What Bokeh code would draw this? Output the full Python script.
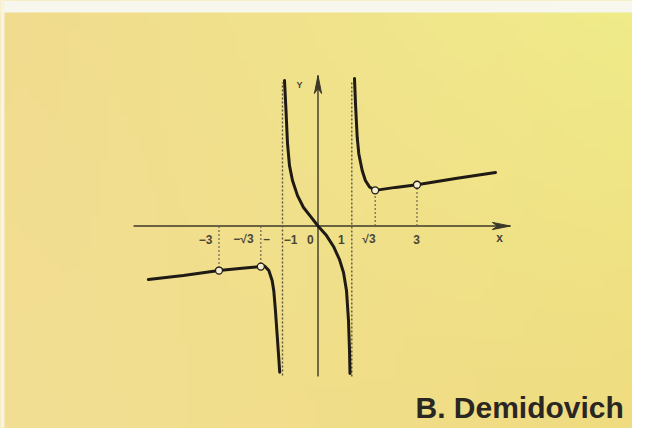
import numpy as np
from bokeh.plotting import figure
from bokeh.models import Label, BoxAnnotation
from bokeh.core.properties import value
from bokeh.embed import file_html
from bokeh.resources import INLINE

# ---- data (data units) ----
left_x = [-5.14, -4.08, -3.0, -2.38, -1.732, -1.62, -1.49, -1.39, -1.34, -1.29, -1.24, -1.19, -1.16]
left_y = [-1.62, -1.50, -1.35, -1.29, -1.23, -1.21, -1.35, -1.65, -1.96, -2.56, -3.27, -3.98, -4.43]

mid_x = [-1.015, -0.97, -0.924, -0.864, -0.773, -0.621, -0.439, -0.227, 0.0,
         0.258, 0.47, 0.652, 0.773, 0.864, 0.924, 0.955, 0.97]
mid_y = [4.41, 3.50, 2.50, 1.83, 1.38, 0.92, 0.56, 0.29, 0.0,
         -0.29, -0.62, -1.02, -1.41, -1.96, -2.86, -3.77, -4.47]

right_x = [1.106, 1.136, 1.188, 1.236, 1.339, 1.436, 1.561, 1.732, 2.348, 3.0, 4.167, 5.379]
right_y = [4.47, 3.71, 2.69, 2.19, 1.68, 1.38, 1.18, 1.08, 1.17, 1.25, 1.44, 1.62]

marked_x = [-3.0, -1.732, 1.732, 3.0]
marked_y = [-1.35, -1.23, 1.08, 1.25]

asym_x = [-1.076, 1.024]
asym_top = [4.35, 4.41]
asym_bottom = [-4.53, -4.56]

x_axis_ends = [-5.59, 5.83]
y_axis_ends = [-4.56, 4.56]

tick_labels = ["−3", "−√3", "–", "−1", "0", "1", "√3", "3"]
tick_label_x = [-3.41, -2.26, -1.56, -0.83, -0.23, 0.71, 1.545, 2.985]
tick_label_y = -0.394

title_text = "B. Demidovich"

# background corner colours (top-left, top-right, bottom-left, bottom-right)
bg_corners = [(241, 219, 142), (240, 236, 138), (243, 223, 148), (239, 220, 128)]

# ---- figure ----
SCALE = 33.0
W, H = 632, 428
ox, oy = 317.5, 225.5
x0, x1 = -ox / SCALE, (W - ox) / SCALE
y0, y1 = -(H - oy) / SCALE, oy / SCALE
p = figure(width=W, height=H, output_backend="svg", toolbar_location=None,
           x_axis_location=None, y_axis_location=None,
           x_range=(x0, x1), y_range=(y0, y1),
           min_border=0, outline_line_color=None,
           background_fill_color="#F1E38B", border_fill_color="#F1E38B")
p.grid.visible = False

# smooth background gradient
n = 64
u = np.linspace(0, 1, n)[None, :]
v = np.linspace(0, 1, n)[:, None]   # row 0 = bottom
tl, tr, bl, br = [np.array(c, dtype=float) for c in bg_corners]
img = np.zeros((n, n), dtype=np.uint32)
view = img.view(dtype=np.uint8).reshape((n, n, 4))
for k in range(3):
    ch = (bl[k] * (1 - u) * (1 - v) + br[k] * u * (1 - v)
          + tl[k] * (1 - u) * v + tr[k] * u * v)
    view[:, :, k] = np.clip(ch, 0, 255).astype(np.uint8)
view[:, :, 3] = 255
p.image_rgba(image=[img], x=x0, y=y0, dw=x1 - x0, dh=y1 - y0)

# light paper edges
p.add_layout(BoxAnnotation(bottom=y1 - 12 / SCALE, fill_color="#F7F7EE", fill_alpha=1, line_alpha=0))
p.add_layout(BoxAnnotation(right=x0 + 4 / SCALE, fill_color="#F8F3E2", fill_alpha=1, line_alpha=0))

axis_col = "#3c3828"
# axes
p.line(x=x_axis_ends, y=[0, 0], line_color=axis_col, line_width=1.6)
p.line(x=[0, 0], y=y_axis_ends, line_color=axis_col, line_width=1.4)

# arrow heads (derived from axis ends)
L, hw, notch = 18 / SCALE, 3.6 / SCALE, 5 / SCALE
xt = x_axis_ends[1]
p.patch(x=[xt, xt - L, xt - L + notch, xt - L], y=[0, hw, 0, -hw],
        fill_color=axis_col, line_color=axis_col, line_width=1)
yt = y_axis_ends[1]
p.patch(x=[0, hw, 0, -hw], y=[yt, yt - L, yt - L + notch, yt - L],
        fill_color=axis_col, line_color=axis_col, line_width=1)

# asymptotes
p.segment(x0=asym_x, y0=asym_bottom, x1=asym_x, y1=asym_top,
          line_color="#5a5540", line_width=1.4, line_dash="2 2")

# dashed guides to marked points
p.segment(x0=marked_x, y0=[0] * len(marked_x), x1=marked_x, y1=marked_y,
          line_color="#6a6450", line_width=1.2, line_dash="2 2")

# curves
for xs, ys in ((left_x, left_y), (mid_x, mid_y), (right_x, right_y)):
    p.line(x=xs, y=ys, line_color="#1f1b14", line_width=3,
           line_join="round", line_cap="round")

p.scatter(x=marked_x, y=marked_y, size=7, marker="circle",
          fill_color="#F4EFD2", line_color="#1f1b14", line_width=1.3)

# tick labels
p.text(x=tick_label_x, y=[tick_label_y] * len(tick_labels), text=tick_labels,
       text_align="center", text_baseline="middle",
       text_font=value("Liberation Sans"), text_font_style="bold",
       text_font_size="12px", text_color="#4a4636")
p.text(x=[5.5], y=[-0.35], text=["x"], text_align="center", text_baseline="middle",
       text_font=value("Liberation Sans"), text_font_style="bold",
       text_font_size="12px", text_color="#4a4636")
p.text(x=[-0.56], y=[4.26], text=["Y"], text_align="center", text_baseline="middle",
       text_font=value("Liberation Sans"), text_font_style="bold",
       text_font_size="9px", text_color="#4a4636")

p.add_layout(Label(x=415, y=H - 407, x_units="screen", y_units="screen", text=title_text,
                   text_font="Liberation Sans", text_font_style="bold",
                   text_font_size="30px", text_color="#2a2722",
                   text_baseline="alphabetic", text_align="left"))

open("out.html", "w").write(file_html(p, INLINE))
